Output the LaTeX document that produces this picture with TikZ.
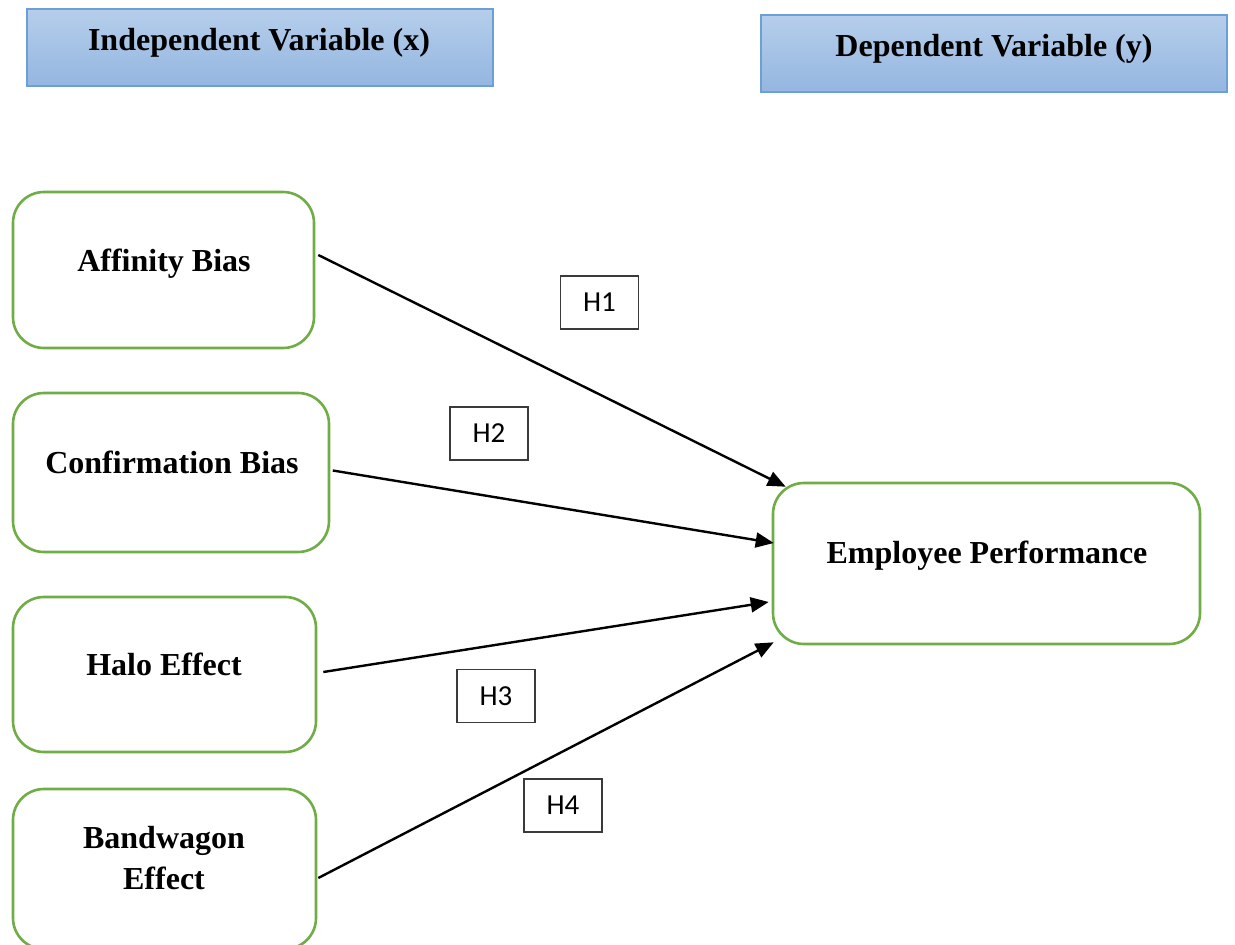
\documentclass[tikz,border=0pt]{standalone}
\usepackage{fontspec}
\setmainfont{Liberation Serif}
\newfontfamily\hfont{Carlito}
\usetikzlibrary{arrows.meta}
\definecolor{boxgreen}{HTML}{70AD47}
\definecolor{hdrtop}{HTML}{B6CEEB}
\definecolor{hdrbot}{HTML}{94B6E0}
\definecolor{hdrline}{HTML}{6C9FD7}
\definecolor{hline}{HTML}{3A3A3A}
\tikzset{
  varbox/.style={draw=boxgreen, line width=2.6pt, rounded corners=31pt, inner sep=0pt},
  hdrbox/.style={draw=hdrline, line width=1.6pt, top color=hdrtop, bottom color=hdrbot, inner sep=0pt, minimum width=466pt, minimum height=77pt},
  btext/.style={font=\fontsize{32pt}{40pt}\selectfont\bfseries, inner sep=0pt, anchor=base},
  hyp/.style={draw=hline, line width=1.3pt, fill=white, minimum width=78pt, minimum height=53pt, inner sep=0pt, font=\hfont\fontsize{29pt}{34pt}\selectfont},
  link/.style={line width=2.4pt, -{Triangle[length=18pt,width=15pt]}}
}
\begin{document}
\begin{tikzpicture}[x=1pt,y=-1pt]
\useasboundingbox[fill=white] (0,0) rectangle (1235,945);
% headers
\node[hdrbox] (hx) at (260,47.5) {};
\node[btext] (hxt) at (259,50) {Independent Variable (x)};
\node[hdrbox] (hy) at (994,53.5) {};
\node[btext] (hyt) at (994,56) {Dependent Variable (y)};
% variable boxes
\node[varbox, minimum width=301pt, minimum height=156pt] (aff) at (163.5,270) {};
\node[btext] (afft) at (164,271) {Affinity Bias};
\node[varbox, minimum width=316pt, minimum height=159pt] (conf) at (171,472.5) {};
\node[btext] (conft) at (172,473) {Confirmation Bias};
\node[varbox, minimum width=303pt, minimum height=155pt] (halo) at (164.5,674.5) {};
\node[btext] (halot) at (164,675) {Halo Effect};
\node[varbox, minimum width=303pt, minimum height=160pt] (band) at (164.5,869) {};
\node[btext] (bandt1) at (164,848) {Bandwagon};
\node[btext] (bandt2) at (164,889) {Effect};
\node[varbox, minimum width=427pt, minimum height=161pt] (emp) at (986.5,563.5) {};
\node[btext] (empt) at (987,563) {Employee Performance};
% connector ends
\coordinate (s1) at ([shift={(3,-15)}]aff.east);
\coordinate (e1) at ([shift={(14,5)}]emp.north west);
\coordinate (s2) at ([shift={(2.5,-2)}]conf.east);
\coordinate (e2) at ([shift={(2,-20.5)}]emp.west);
\coordinate (s3) at ([shift={(6,-2.5)}]halo.east);
\coordinate (e3) at ([shift={(-3,38.5)}]emp.west);
\coordinate (s4) at ([shift={(1,9)}]band.east);
\coordinate (e4) at ([shift={(2,-3)}]emp.south west);
\draw[link] (s1) -- (e1);
\draw[link] (s2) -- (e2);
\draw[link] (s3) -- (e3);
\draw[link] (s4) -- (e4);
% hypothesis labels
\node[hyp] (h1) at (599.5,302.5) {H1};
\node[hyp] (h2) at (489,433.5) {H2};
\node[hyp] (h3) at (496,696) {H3};
\node[hyp] (h4) at (563,805.5) {H4};
\end{tikzpicture}
\end{document}
